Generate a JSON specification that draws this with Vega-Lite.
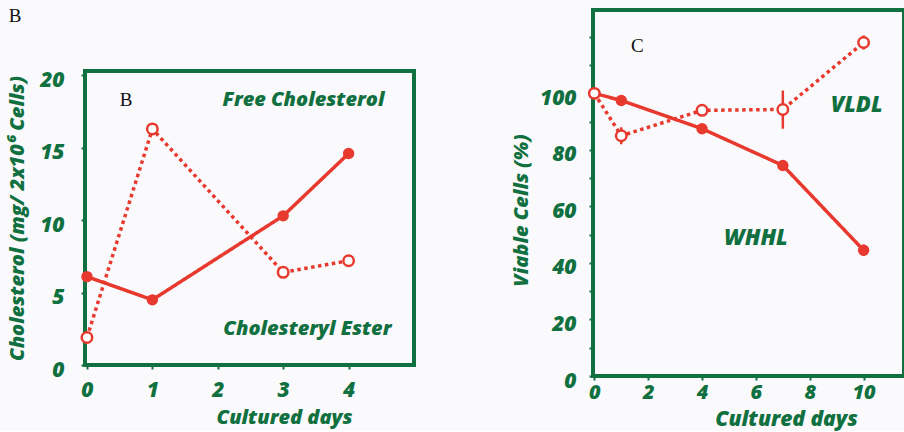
{
  "$schema": "https://vega.github.io/schema/vega-lite/v6.json",
  "background": "#fafafc",
  "padding": {"left": 7, "top": 6, "right": 0, "bottom": 0},
  "spacing": 93,
  "config": {
    "view": {"stroke": "#11703f", "strokeWidth": 4, "fill": null},
    "axis": {
      "domain": false,
      "grid": false,
      "ticks": true,
      "tickColor": "#11703f",
      "tickWidth": 2,
      "tickSize": 4,
      "labelFont": "Open Sans",
      "labelFontSize": 21,
      "labelFontWeight": 800,
      "labelFontStyle": "italic",
      "labelColor": "#11703f",
      "titleFont": "Open Sans",
      "titleFontSize": 20,
      "titleFontWeight": 800,
      "titleFontStyle": "italic",
      "titleColor": "#11703f"
    }
  },
  "datasets": {
    "cholesterol": [
      {"day": 0, "value": 6.1, "series": "Free Cholesterol"},
      {"day": 1, "value": 4.5, "series": "Free Cholesterol"},
      {"day": 3, "value": 10.3, "series": "Free Cholesterol"},
      {"day": 4, "value": 14.6, "series": "Free Cholesterol"},
      {"day": 0, "value": 1.9, "series": "Cholesteryl Ester"},
      {"day": 1, "value": 16.3, "series": "Cholesteryl Ester"},
      {"day": 3, "value": 6.4, "series": "Cholesteryl Ester"},
      {"day": 4, "value": 7.2, "series": "Cholesteryl Ester"}
    ],
    "viability": [
      {"day": 0, "value": 100, "lo": 100, "hi": 100, "series": "WHHL"},
      {"day": 1, "value": 97.5, "lo": 96, "hi": 99, "series": "WHHL"},
      {"day": 4, "value": 87.5, "lo": 86.5, "hi": 88.5, "series": "WHHL"},
      {"day": 7, "value": 74.5, "lo": 73.5, "hi": 75.5, "series": "WHHL"},
      {"day": 10, "value": 44.5, "lo": 42.5, "hi": 46.5, "series": "WHHL"},
      {"day": 0, "value": 100, "lo": 100, "hi": 100, "series": "VLDL"},
      {"day": 1, "value": 85, "lo": 82, "hi": 88, "series": "VLDL"},
      {"day": 4, "value": 94, "lo": 92.5, "hi": 95.5, "series": "VLDL"},
      {"day": 7, "value": 94.3, "lo": 87.5, "hi": 101, "series": "VLDL"},
      {"day": 10, "value": 118, "lo": 115.5, "hi": 120.5, "series": "VLDL"}
    ],
    "leftNotes": [
      {"day": 3.31, "value": 18.3, "text": "Free Cholesterol", "kind": "series"},
      {"day": 3.37, "value": 2.5, "text": "Cholesteryl Ester", "kind": "series"},
      {"day": 0.6, "value": 18.3, "text": "B", "kind": "panel"},
      {"day": -1.1, "value": 24.1, "text": "B", "kind": "panel"}
    ],
    "rightNotes": [
      {"day": 9.74, "value": 95.8, "text": "VLDL", "kind": "series"},
      {"day": 6.0, "value": 49, "text": "WHHL", "kind": "series"},
      {"day": 1.6, "value": 116.6, "text": "C", "kind": "panel"}
    ]
  },
  "hconcat": [
    {
      "width": 329,
      "height": 366,
      "view": {"stroke": null},
      "data": {"name": "cholesterol"},
      "encoding": {
        "x": {
          "field": "day", "type": "quantitative",
          "scale": {"domain": [-0.03, 5], "nice": false},
          "axis": {"values": [0, 1, 2, 3, 4], "title": "Cultured days", "offset": -11, "labelPadding": 10, "titlePadding": 7, "titleX": 199}
        },
        "y": {
          "field": "value", "type": "quantitative",
          "scale": {"domain": [0, 20.3], "nice": false, "range": [355, 61]},
          "axis": {"values": [0, 5, 10, 15, 20], "title": "Cholesterol (mg/ 2x10⁶ Cells)", "labelPadding": 17, "labelOffset": 5, "titlePadding": 12, "titleY": 208}
        }
      },
      "layer": [
        {
          "transform": [{"filter": "datum.day === 0 && datum.series === 'Free Cholesterol'"}],
          "mark": {"type": "rect", "fill": "transparent", "stroke": "#11703f", "strokeWidth": 4},
          "encoding": {
            "x": {"datum": -0.03, "type": "quantitative"},
            "x2": {"datum": 5},
            "y": {"datum": 0, "type": "quantitative"},
            "y2": {"datum": 20.3}
          }
        },
        {
          "mark": {"type": "line", "color": "#e8392f", "strokeWidth": 3.5},
          "encoding": {
            "detail": {"field": "series"},
            "strokeDash": {
              "field": "series", "type": "nominal",
              "scale": {"domain": ["Free Cholesterol", "Cholesteryl Ester"], "range": [[1, 0], [3.5, 3.5]]},
              "legend": null
            }
          }
        },
        {
          "transform": [{"filter": "datum.series === 'Free Cholesterol'"}],
          "mark": {"type": "point", "shape": "circle", "filled": true, "color": "#e8392f", "size": 130, "opacity": 1}
        },
        {
          "transform": [{"filter": "datum.series === 'Cholesteryl Ester'"}],
          "mark": {"type": "point", "shape": "circle", "filled": true, "fill": "#ffffff", "stroke": "#e8392f", "strokeWidth": 2.5, "size": 110, "opacity": 1}
        },
        {
          "data": {"name": "leftNotes"},
          "transform": [{"filter": "datum.kind === 'series'"}],
          "mark": {"type": "text", "font": "Open Sans", "fontSize": 20, "fontWeight": 800, "fontStyle": "italic", "color": "#11703f", "align": "center", "baseline": "middle"},
          "encoding": {"text": {"field": "text"}}
        },
        {
          "data": {"name": "leftNotes"},
          "transform": [{"filter": "datum.kind === 'panel'"}],
          "mark": {"type": "text", "font": "Liberation Serif", "fontSize": 19, "color": "#111111", "align": "center", "baseline": "middle"},
          "encoding": {"text": {"field": "text"}}
        }
      ]
    },
    {
      "width": 311,
      "height": 366,
      "data": {"name": "viability"},
      "encoding": {
        "x": {
          "field": "day", "type": "quantitative",
          "scale": {"domain": [-0.05, 11.5], "nice": false},
          "axis": {"values": [0, 2, 4, 6, 8, 10], "title": "Cultured days", "labelFontSize": 20, "titleFontSize": 21, "labelPadding": 2, "titlePadding": 6, "titleX": 193}
        },
        "y": {
          "field": "value", "type": "quantitative",
          "scale": {"domain": [0, 129.5], "nice": false},
          "axis": {
            "values": [0, 10, 20, 30, 40, 50, 60, 70, 80, 90, 100, 110, 120],
            "labelExpr": "datum.value % 20 === 0 && datum.value <= 100 ? datum.label : ''",
            "title": "Viable Cells (%)", "labelPadding": 13, "labelOffset": 5, "titlePadding": 8, "titleY": 200
          }
        }
      },
      "layer": [
        {
          "mark": {"type": "rule", "color": "#e8392f", "strokeWidth": 2.5},
          "encoding": {"y": {"field": "lo", "type": "quantitative"}, "y2": {"field": "hi"}}
        },
        {
          "mark": {"type": "line", "color": "#e8392f", "strokeWidth": 3.5},
          "encoding": {
            "detail": {"field": "series"},
            "strokeDash": {
              "field": "series", "type": "nominal",
              "scale": {"domain": ["WHHL", "VLDL"], "range": [[1, 0], [3.5, 3.5]]},
              "legend": null
            }
          }
        },
        {
          "transform": [{"filter": "datum.series === 'WHHL'"}],
          "mark": {"type": "point", "shape": "circle", "filled": true, "color": "#e8392f", "size": 130, "opacity": 1}
        },
        {
          "transform": [{"filter": "datum.series === 'VLDL'"}],
          "mark": {"type": "point", "shape": "circle", "filled": true, "fill": "#ffffff", "stroke": "#e8392f", "strokeWidth": 2.5, "size": 110, "opacity": 1}
        },
        {
          "data": {"name": "rightNotes"},
          "transform": [{"filter": "datum.kind === 'series'"}],
          "mark": {"type": "text", "font": "Open Sans", "fontSize": 22, "fontWeight": 800, "fontStyle": "italic", "color": "#11703f", "align": "center", "baseline": "middle"},
          "encoding": {"text": {"field": "text"}}
        },
        {
          "data": {"name": "rightNotes"},
          "transform": [{"filter": "datum.kind === 'panel'"}],
          "mark": {"type": "text", "font": "Liberation Serif", "fontSize": 19, "color": "#111111", "align": "center", "baseline": "middle"},
          "encoding": {"text": {"field": "text"}}
        }
      ]
    }
  ]
}
